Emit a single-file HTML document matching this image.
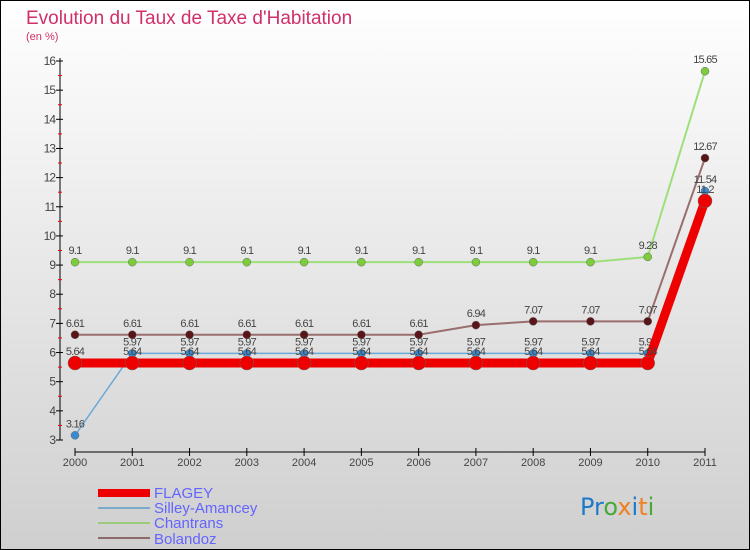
<!DOCTYPE html>
<html><head><meta charset="utf-8"><style>
body{margin:0}
svg{display:block;font-family:"Liberation Sans",sans-serif}
</style></head><body>
<svg id="c" width="750" height="550">
<defs><linearGradient id="bg" x1="0" y1="0" x2="0" y2="1"><stop offset="0" stop-color="#ffffff"/><stop offset="1" stop-color="#cfcfcf"/></linearGradient></defs>
<rect x="0.5" y="0.5" width="749" height="549" fill="url(#bg)" stroke="#000"/>
<text x="26" y="24" font-size="19" fill="#d0306a">Evolution du Taux de Taxe d'Habitation</text>
<text x="26" y="40" font-size="11" fill="#d0306a">(en %)</text>
<g id="axes"></g><g id="series"></g>
<g>
<rect x="98" y="489" width="52" height="8" fill="#e00"/>
<text x="154" y="498" font-size="15" fill="#6464ff">FLAGEY</text>
<line x1="98" y1="508" x2="150" y2="508" stroke="#7aa9cc" stroke-width="2"/>
<text x="154" y="513" font-size="15" fill="#6464ff">Silley-Amancey</text>
<line x1="98" y1="523" x2="150" y2="523" stroke="#9ccc7a" stroke-width="2"/>
<text x="154" y="528" font-size="15" fill="#6464ff">Chantrans</text>
<line x1="98" y1="538" x2="150" y2="538" stroke="#8c6a6a" stroke-width="2"/>
<text x="154" y="544" font-size="15" fill="#6464ff">Bolandoz</text>
</g>
<text x="580" y="515" font-size="24" font-family="'DejaVu Sans',sans-serif"><tspan fill="#1e7ac8">Pr</tspan><tspan fill="#4aa83a">o</tspan><tspan fill="#f08020">x</tspan><tspan fill="#1e7ac8">i</tspan><tspan fill="#f08020">t</tspan><tspan fill="#4aa83a">i</tspan></text>
</svg>
<script>
const years=["2000","2001","2002","2003","2004","2005","2006","2007","2008","2009","2010","2011"];
const yTicks=[3,4,5,6,7,8,9,10,11,12,13,14,15,16];
const flagey=[5.64,5.64,5.64,5.64,5.64,5.64,5.64,5.64,5.64,5.64,5.64,11.2];
const silley=[3.16,5.97,5.97,5.97,5.97,5.97,5.97,5.97,5.97,5.97,5.97,11.54];
const chantrans=[9.1,9.1,9.1,9.1,9.1,9.1,9.1,9.1,9.1,9.1,9.28,15.65];
const bolandoz=[6.61,6.61,6.61,6.61,6.61,6.61,6.61,6.94,7.07,7.07,7.07,12.67];
const NS="http://www.w3.org/2000/svg";
const xs=i=>75+i*(630/11);
const ys=v=>440-(v-3)*(379/13);
function mk(p,t,a){const e=document.createElementNS(NS,t);for(const k in a)e.setAttribute(k,a[k]);p.appendChild(e);return e;}
const ax=document.getElementById('axes');
let l=mk(ax,'line',{x1:60,y1:ys(16)-3,x2:60,y2:440,stroke:'#000'});


l=mk(ax,'line',{x1:75,y1:452,x2:705,y2:452,stroke:'#000'});


yTicks.forEach(v=>{
 mk(ax,'line',{x1:56,y1:ys(v),x2:63,y2:ys(v),stroke:'#000'});
 if(v<16)mk(ax,'line',{x1:58,y1:ys(v+0.5),x2:62,y2:ys(v+0.5),stroke:'#e00'});
 const t=mk(ax,'text',{x:55,y:ys(v)+4,'font-size':12,'text-anchor':'end',fill:'#444','letter-spacing':'-1'});
 t.textContent=v;
 
 
});
years.forEach((y,i)=>{
 mk(ax,'line',{x1:xs(i),y1:448,x2:xs(i),y2:456,stroke:'#000'});
 const t=mk(ax,'text',{x:xs(i),y:466,'font-size':11,'text-anchor':'middle',fill:'#444'});
 t.textContent=y;
 
 
});
const sg=document.getElementById('series');
function series(data,name,col,dot,w,r){
 const g=mk(sg,'g',{});
 
 
 mk(g,'polyline',{points:data.map((v,i)=>xs(i)+','+ys(v)).join(' '),fill:'none',stroke:col,'stroke-width':w});
 data.forEach((v,i)=>{
  const c=mk(g,'circle',{cx:xs(i),cy:ys(v),r:r,fill:dot,stroke:'#666','stroke-width':0.5});
  
  
  const t=mk(g,'text',{x:xs(i),y:ys(v)-8,'font-size':11,'text-anchor':'middle',fill:'#444','letter-spacing':'-0.8'});
  t.textContent=v;
  
  
 });
}
series(chantrans,'chantrans','#9de07a','#7ccc3c',2,4);
series(bolandoz,'bolandoz','#9a6e6e','#5a1518',2,4);
series(silley,'silley','#6aaad8','#3a8ad0',1.5,4);
series(flagey,'flagey','#ee0000','#ee0000',9,7);
</script>
</body></html>
